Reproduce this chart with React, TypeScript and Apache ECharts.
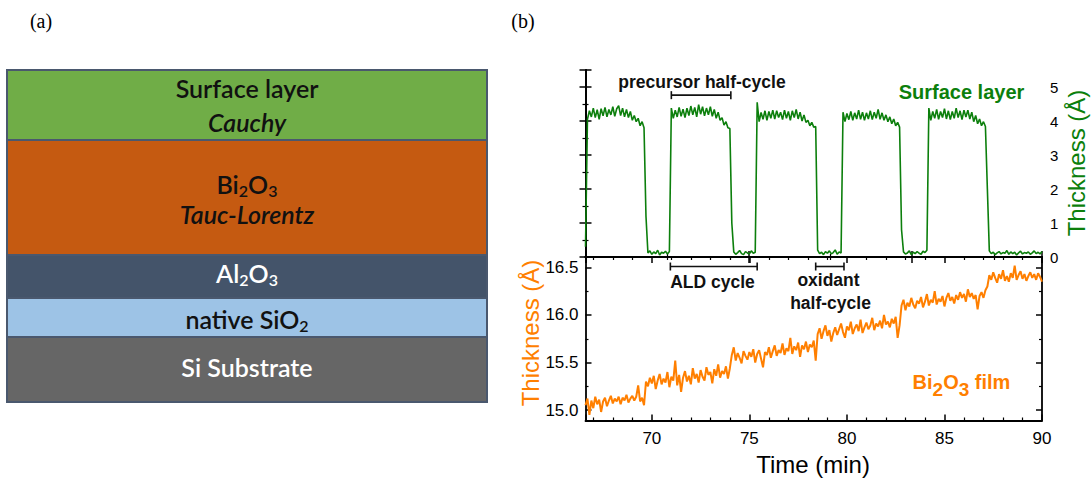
import React, { useEffect, useRef } from "react";
import * as echarts from "echarts";

// ---------- data ----------
const T_START = 66.6; // min, first sample
const T_STEP = 0.1; // min, sampling step

// Surface layer thickness (Å), one value per sample
const SURFACE_LAYER = [
  0.30,
  4.05, 4.30, 4.12, 4.38, 4.10, 4.33, 4.05, 4.36, 4.15, 4.40,
  4.12, 4.34, 4.18, 4.42, 4.14, 4.36, 4.45, 4.16, 4.38, 4.12,
  4.34, 4.10, 4.28, 4.02, 4.16, 3.98, 4.08, 3.86, 3.98, 3.80,
  1.20,
  0.12, 0.18, 0.08, 0.15, 0.10, 0.20, 0.06, 0.14, 0.11, 0.17, 0.09, 0.16,
  4.38, 4.08, 4.32, 4.12, 4.40, 4.14, 4.35, 4.10, 4.38, 4.16,
  4.44, 4.18, 4.40, 4.12, 4.48, 4.20, 4.42, 4.15, 4.38, 4.18,
  4.42, 4.14, 4.34, 4.08, 4.26, 4.02, 4.10, 3.88, 3.98, 3.80, 3.78,
  1.00,
  0.15, 0.08, 0.13, 0.19, 0.10, 0.07, 0.16, 0.12, 0.09, 0.18, 0.11, 0.14,
  4.55, 3.98, 4.25, 4.05, 4.30, 4.02, 4.28, 4.08, 4.32, 4.06,
  4.30, 4.10, 4.26, 4.04, 4.32, 4.08, 4.28, 4.02, 4.30, 4.10,
  4.34, 4.06, 4.26, 4.00, 4.18, 3.96, 4.02, 3.86, 3.96, 3.82, 3.84,
  0.20, 0.10, 0.14, 0.07, 0.16, 0.11, 0.18, 0.09, 0.13, 0.21, 0.08, 0.15, 0.12,
  4.26, 3.98, 4.22, 4.04, 4.28, 4.02, 4.24, 4.06, 4.32, 4.05,
  4.26, 4.02, 4.24, 4.06, 4.30, 4.04, 4.26, 4.08, 4.34, 4.05,
  4.24, 4.02, 4.18, 3.98, 4.12, 3.92, 4.06, 3.86, 3.96, 3.82,
  0.80,
  0.15, 0.09, 0.12, 0.18, 0.07, 0.14, 0.10, 0.16, 0.11, 0.08, 0.17, 0.13, 0.20,
  4.38, 4.02, 4.28, 4.08, 4.34, 4.05, 4.28, 4.10, 4.36, 4.06,
  4.30, 4.04, 4.28, 4.08, 4.38, 4.10, 4.30, 4.04, 4.32, 4.12,
  4.32, 4.06, 4.26, 3.98, 4.16, 3.92, 4.06, 3.86, 3.98, 3.84,
  2.00,
  0.18, 0.10, 0.14, 0.07, 0.12, 0.16, 0.09, 0.13, 0.11, 0.19, 0.08, 0.15, 0.10, 0.14,
  0.06, 0.12, 0.17, 0.09, 0.13, 0.11, 0.15, 0.08, 0.12, 0.18, 0.10, 0.14, 0.09, 0.16,
];

// Bi2O3 film thickness (Å), one value per sample
const BI2O3_FILM = [
  15.05, 15.12, 14.95, 15.10, 15.02, 15.14, 15.06, 15.11, 14.98, 15.09,
  15.13, 15.04, 15.10, 15.15, 15.07, 15.12, 15.09, 15.14, 15.06, 15.13,
  15.10, 15.16, 15.08, 15.12, 15.15, 15.10, 15.14, 15.26, 15.09, 15.13, 15.05,
  15.30, 15.25, 15.34, 15.28, 15.36, 15.22, 15.31, 15.38, 15.27, 15.33,
  15.29, 15.40, 15.24, 15.35, 15.31, 15.52, 15.26, 15.37, 15.19, 15.34,
  15.41, 15.30, 15.36, 15.27, 15.44, 15.33, 15.38, 15.29, 15.42, 15.35,
  15.31, 15.45, 15.37, 15.40, 15.28, 15.43, 15.36, 15.48, 15.34, 15.41,
  15.38, 15.46, 15.33, 15.44,
  15.58, 15.66, 15.52, 15.60, 15.55, 15.49, 15.62, 15.57, 15.53, 15.61,
  15.56, 15.64, 15.50, 15.59, 15.63, 15.54, 15.45, 15.61, 15.58, 15.66,
  15.55, 15.62, 15.68, 15.57, 15.63, 15.60, 15.70, 15.58, 15.65, 15.62,
  15.76, 15.59, 15.67, 15.63, 15.71, 15.56, 15.68, 15.64, 15.72, 15.61,
  15.69, 15.66, 15.73,
  15.52, 15.80, 15.86, 15.75, 15.83, 15.89, 15.78, 15.84, 15.72, 15.81,
  15.87, 15.79, 15.85, 15.91, 15.82, 15.76, 15.88, 15.84, 15.93, 15.80,
  15.86, 15.90, 15.83, 15.95, 15.81, 15.87, 15.92, 15.85, 15.89, 15.97,
  15.84, 15.91, 15.88, 15.94, 15.86, 16.00, 15.90, 15.93, 15.87, 15.96,
  15.91, 15.98, 15.76, 15.89,
  16.10, 16.16, 16.05, 16.13, 16.09, 16.18, 16.11, 16.07, 16.15, 16.12,
  16.19, 16.08, 16.14, 16.22, 16.10, 16.16, 16.13, 16.25, 16.11, 16.17,
  16.14, 16.20, 16.09, 16.18, 16.23, 16.15, 16.19, 16.12, 16.21, 16.16,
  16.24, 16.18, 16.22, 16.14, 16.27, 16.19, 16.23, 16.17, 16.21, 16.06,
  16.20, 16.24, 16.18, 16.26,
  16.30, 16.42, 16.37, 16.45, 16.39, 16.34, 16.43, 16.38, 16.47, 16.36,
  16.41, 16.35, 16.44, 16.39, 16.52, 16.37, 16.42, 16.46, 16.38, 16.43,
  16.36, 16.41, 16.45, 16.39, 16.43, 16.37, 16.44, 16.40, 16.35,
];

// Annotation brackets: [start (min), end (min), level]
const PRECURSOR_BRACKET = [[71.0, 74.05, 4.76]];
const CYCLE_BRACKETS = [
  [70.95, 75.4, 16.51],
  [78.4, 79.85, 16.51],
];

// Axis ranges
const TIME_RANGE = [66.6, 90];
const SURFACE_RANGE = [0, 5.5];
const FILM_RANGE = [14.89, 16.61];
const TOP_FRAME_RANGE = [0, 5.59];

// Layer stack (top to bottom)
const LAYER_LINE1 = [
  "Surface layer",
  "{m|Bi}{s|2}{m|O}{s|3}",
  "{w|Al}{ws|2}{w|O}{ws|3}",
  "{m|native SiO}{s|2}",
  "Si Substrate",
];
const LAYER_LINE2 = ["Cauchy", "Tauc-Lorentz", "", "", ""];

// ---------- styles / layout ----------
const LAYER_COLORS = ["#70AD47", "#C55A11", "#44546A", "#9DC3E6", "#666666"];
const LAYER_TEXT = ["#111", "#111", "#fff", "#111", "#fff"];
const LAYER_EDGES = [70, 140, 255, 298, 337, 402];
const LAYER_LINE1_Y = [88, 184, 273, 319, 367];
const LAYER_LINE2_Y = [122, 214, 0, 0, 0];
const STACK_X0 = 7;
const STACK_X1 = 487;
const STACK_CX = 247;

const GREEN = "#0c7f0c";
const ORANGE = "#ff7f00";
const SANS = "Liberation Sans, Arial, sans-serif";
const CAL = "Lato, 'Open Sans', sans-serif";
const CAL_SIZE = 25;
const CAL_WEIGHT = 600;

const PLOT_LEFT = 585.5;
const PLOT_RIGHT = 1091 - 1042;

const isMult = (v: number, m: number) => Math.abs(v / m - Math.round(v / m)) < 1e-6;

const frameAxisStyle = {
  axisLine: { show: true, lineStyle: { color: "#000", width: 1.8 } },
  axisTick: { show: true, inside: true, length: 6, lineStyle: { color: "#000", width: 1.5 } },
  minorTick: { show: true, length: 3, lineStyle: { color: "#000", width: 1.2 } },
  splitLine: { show: false },
};

const renderBracket = (params: any, api: any) => {
  const y = api.value(2);
  const a = api.coord([api.value(0), y]);
  const b = api.coord([api.value(1), y]);
  const st = { stroke: "#111", lineWidth: 1.6 };
  return {
    type: "group",
    children: [
      { type: "line", shape: { x1: a[0], y1: a[1], x2: b[0], y2: b[1] }, style: st },
      { type: "line", shape: { x1: a[0], y1: a[1] - 4, x2: a[0], y2: a[1] + 4 }, style: st },
      { type: "line", shape: { x1: b[0], y1: b[1] - 4, x2: b[0], y2: b[1] + 4 }, style: st },
    ],
  };
};

function buildGraphic() {
  const g: any[] = [];
  // panel letters
  g.push({ type: "text", x: 41, y: 21, style: { text: "(a)", font: "20px 'Liberation Serif', serif", fill: "#000", align: "center", verticalAlign: "middle" } });
  g.push({ type: "text", x: 523, y: 21, style: { text: "(b)", font: "20px 'Liberation Serif', serif", fill: "#000", align: "center", verticalAlign: "middle" } });
  // layer stack
  for (let i = 0; i < LAYER_COLORS.length; i++) {
    g.push({
      type: "rect",
      shape: { x: STACK_X0, y: LAYER_EDGES[i], width: STACK_X1 - STACK_X0, height: LAYER_EDGES[i + 1] - LAYER_EDGES[i] },
      style: { fill: LAYER_COLORS[i], stroke: "#4a586e", lineWidth: 2 },
    });
  }
  const mainTok = (fill: string) => ({ fontSize: CAL_SIZE, fontWeight: CAL_WEIGHT, fontFamily: CAL, fill, lineHeight: 28 });
  const subTok = (fill: string) => ({ fontSize: 16, fontWeight: CAL_WEIGHT, fontFamily: CAL, fill, lineHeight: 16, padding: [12, 0, 0, 0] });
  const rich = { m: mainTok("#111"), s: subTok("#111"), w: mainTok("#fff"), ws: subTok("#fff") };
  for (let i = 0; i < LAYER_LINE1.length; i++) {
    const t = LAYER_LINE1[i];
    const isRich = t.indexOf("{") === 0;
    g.push({
      type: "text",
      x: STACK_CX,
      y: LAYER_LINE1_Y[i],
      style: isRich
        ? { text: t, rich, align: "center", verticalAlign: "middle" }
        : { text: t, fontSize: CAL_SIZE, fontWeight: CAL_WEIGHT, fontFamily: CAL, fill: LAYER_TEXT[i], align: "center", verticalAlign: "middle" },
    });
    if (LAYER_LINE2[i]) {
      g.push({
        type: "text",
        x: STACK_CX,
        y: LAYER_LINE2_Y[i],
        style: { text: LAYER_LINE2[i], fontSize: CAL_SIZE, fontWeight: CAL_WEIGHT, fontStyle: "italic", fontFamily: CAL, fill: LAYER_TEXT[i], align: "center", verticalAlign: "middle" },
      });
    }
  }
  // annotations on plot (b)
  const ann = (text: string, x: number, y: number, color = "#111", size = 17.5) => ({
    type: "text",
    x,
    y,
    z: 20,
    style: { text, fontSize: size, fontWeight: "bold", fontFamily: SANS, fill: color, align: "center", verticalAlign: "middle" },
  });
  g.push(ann("precursor half-cycle", 702, 82));
  g.push(ann("ALD cycle", 712.5, 282));
  g.push(ann("oxidant", 828.5, 280));
  g.push(ann("half-cycle", 830.5, 303));
  g.push(ann("Surface layer", 961.5, 92, GREEN, 20));
  g.push({
    type: "text",
    x: 961.5,
    y: 382,
    z: 20,
    style: {
      text: "{b|Bi}{s|2}{b|O}{s|3}{b| film}",
      align: "center",
      verticalAlign: "middle",
      rich: {
        b: { fontSize: 20, fontWeight: "bold", fontFamily: SANS, fill: ORANGE, lineHeight: 34 },
        s: { fontSize: 19, fontWeight: "bold", fontFamily: SANS, fill: ORANGE, lineHeight: 20, padding: [14, 0, 0, 0] },
      },
    },
  });
  // axis titles
  g.push({ type: "text", x: 813, y: 464, style: { text: "Time (min)", fontSize: 24, fontFamily: SANS, fill: "#000", align: "center", verticalAlign: "middle" } });
  g.push({ type: "text", x: 530, y: 333, rotation: Math.PI / 2, style: { text: "Thickness (Å)", fontSize: 24, fontFamily: SANS, fill: ORANGE, align: "center", verticalAlign: "middle" } });
  g.push({ type: "text", x: 1076, y: 163, rotation: Math.PI / 2, style: { text: "Thickness (Å)", fontSize: 24, fontFamily: SANS, fill: GREEN, align: "center", verticalAlign: "middle" } });
  return g;
}

function buildOption() {
  const toPts = (arr: number[]) => arr.map((v, i) => [+(T_START + i * T_STEP).toFixed(2), v]);
  return {
    animation: false,
    backgroundColor: "#fff",
    grid: [
      { left: PLOT_LEFT, right: PLOT_RIGHT, top: 70, height: 187 },
      { left: PLOT_LEFT, right: PLOT_RIGHT, top: 257, height: 163.5 },
    ],
    xAxis: [
      { gridIndex: 0, type: "value", position: "bottom", min: TIME_RANGE[0], max: TIME_RANGE[1], show: false },
      {
        gridIndex: 0, type: "value", position: "top", min: TOP_FRAME_RANGE[0], max: TOP_FRAME_RANGE[1],
        minInterval: 2, maxInterval: 2, ...frameAxisStyle,
        minorTick: { ...frameAxisStyle.minorTick, splitNumber: 2 },
        axisLabel: { show: false },
      },
      {
        gridIndex: 0, type: "value", position: "bottom", min: TOP_FRAME_RANGE[0], max: TOP_FRAME_RANGE[1],
        minInterval: 2, maxInterval: 2, ...frameAxisStyle,
        minorTick: { ...frameAxisStyle.minorTick, splitNumber: 2 },
        axisLabel: { show: false },
      },
      {
        gridIndex: 1, type: "value", position: "bottom", min: TIME_RANGE[0], max: TIME_RANGE[1],
        minInterval: 5, maxInterval: 5, ...frameAxisStyle,
        minorTick: { ...frameAxisStyle.minorTick, splitNumber: 5 },
        axisLabel: {
          show: true, margin: 9, color: "#000", fontSize: 17, fontFamily: SANS,
          formatter: (v: number) => (isMult(v, 5) ? String(Math.round(v)) : ""),
        },
      },
      {
        gridIndex: 1, type: "value", position: "top", min: TIME_RANGE[0], max: TIME_RANGE[1],
        minInterval: 5, maxInterval: 5, ...frameAxisStyle,
        minorTick: { ...frameAxisStyle.minorTick, splitNumber: 5 },
        axisLabel: { show: false },
      },
    ],
    yAxis: [
      {
        gridIndex: 0, type: "value", position: "right", min: SURFACE_RANGE[0], max: SURFACE_RANGE[1],
        minInterval: 1, maxInterval: 1, ...frameAxisStyle,
        minorTick: { ...frameAxisStyle.minorTick, splitNumber: 2 },
        axisLabel: {
          show: true, margin: 8, color: "#000", fontSize: 15, fontFamily: SANS,
          formatter: (v: number) => (isMult(v, 1) ? String(Math.round(v)) : ""),
        },
      },
      {
        gridIndex: 0, type: "value", position: "left", min: SURFACE_RANGE[0], max: SURFACE_RANGE[1],
        minInterval: 1, maxInterval: 1, ...frameAxisStyle,
        minorTick: { ...frameAxisStyle.minorTick, splitNumber: 2 },
        axisLabel: { show: false },
      },
      {
        gridIndex: 1, type: "value", position: "left", min: FILM_RANGE[0], max: FILM_RANGE[1],
        minInterval: 0.5, maxInterval: 0.5, ...frameAxisStyle,
        minorTick: { ...frameAxisStyle.minorTick, splitNumber: 2 },
        axisLabel: {
          show: true, margin: 7, color: "#000", fontSize: 17, fontFamily: SANS,
          formatter: (v: number) => (isMult(v, 0.5) ? v.toFixed(1) : ""),
        },
      },
      {
        gridIndex: 1, type: "value", position: "right", min: FILM_RANGE[0], max: FILM_RANGE[1],
        minInterval: 0.5, maxInterval: 0.5, ...frameAxisStyle,
        minorTick: { ...frameAxisStyle.minorTick, splitNumber: 2 },
        axisLabel: { show: false },
      },
    ],
    series: [
      {
        type: "line", name: "Surface layer", xAxisIndex: 0, yAxisIndex: 0,
        data: toPts(SURFACE_LAYER), showSymbol: false, symbol: "none",
        lineStyle: { color: GREEN, width: 1.6 }, clip: true, z: 3,
      },
      {
        type: "line", name: "Bi2O3 film", xAxisIndex: 3, yAxisIndex: 2,
        data: toPts(BI2O3_FILM), showSymbol: false, symbol: "none",
        lineStyle: { color: ORANGE, width: 2 }, clip: true, z: 3,
      },
      {
        type: "custom", xAxisIndex: 0, yAxisIndex: 0, data: PRECURSOR_BRACKET,
        encode: { x: [0, 1], y: 2 }, renderItem: renderBracket, clip: false, silent: true, z: 5,
      },
      {
        type: "custom", xAxisIndex: 3, yAxisIndex: 2, data: CYCLE_BRACKETS,
        encode: { x: [0, 1], y: 2 }, renderItem: renderBracket, clip: false, silent: true, z: 5,
      },
    ],
    graphic: buildGraphic(),
  };
}

export default function App() {
  const ref = useRef<HTMLDivElement>(null);
  useEffect(() => {
    if (!ref.current) return;
    const chart = echarts.init(ref.current, undefined, { renderer: "svg" });
    chart.setOption(buildOption() as any);
    return () => chart.dispose();
  }, []);
  return (
    <div
      ref={ref}
      style={{ position: "absolute", left: 0, top: 0, width: 1091, height: 484, background: "#fff" }}
    />
  );
}
